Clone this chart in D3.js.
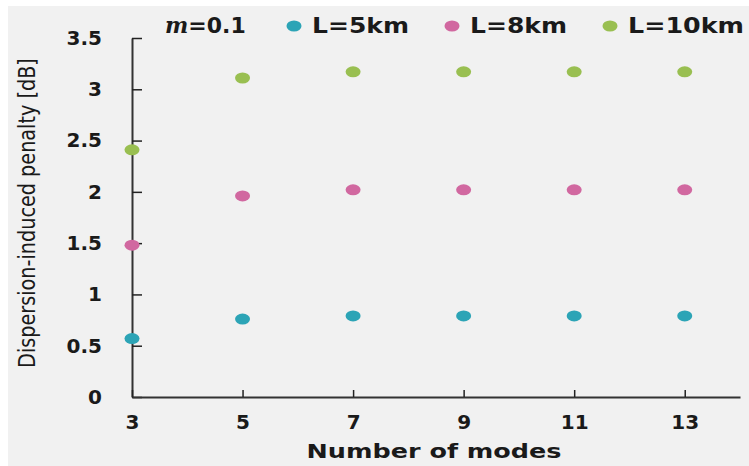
<!DOCTYPE html>
<html>
<head>
<meta charset="utf-8">
<script src="https://cdn.jsdelivr.net/npm/d3@7/dist/d3.min.js"></script>
<style>
  html, body { margin: 0; padding: 0; background: #ffffff; }
  svg { display: block; }
  text { font-family: "DejaVu Sans", sans-serif; fill: #1a1a1a; }
</style>
</head>
<body>
<svg id="chart" width="749" height="466"></svg>
<script>
// Number of modes on the x axis
const modes = [3, 5, 7, 9, 11, 13];
// Dispersion-induced penalty [dB] per fibre length
const penalty5km  = [0.57, 0.76, 0.79, 0.79, 0.79, 0.79];
const penalty8km  = [1.48, 1.96, 2.02, 2.02, 2.02, 2.02];
const penalty10km = [2.41, 3.11, 3.17, 3.17, 3.17, 3.17];
const seriesNames = ["L=5km", "L=8km", "L=10km"];
const seriesColors = ["#2ca4b6", "#d168a0", "#99bf51"];
const xTicks = [3, 5, 7, 9, 11, 13];
const yTicks = [0, 0.5, 1, 1.5, 2, 2.5, 3, 3.5];

const series = [penalty5km, penalty8km, penalty10km].map((vals, i) => ({
  name: seriesNames[i],
  color: seriesColors[i],
  points: modes.map((m, j) => ({ m, v: vals[j] }))
}));

const svg = d3.select("#chart");

// panel background
svg.append("rect")
  .attr("x", 8).attr("y", 6)
  .attr("width", 741).attr("height", 460)
  .attr("fill", "#f1f1f1");

const x = d3.scaleLinear().domain([3, 14]).range([132, 740]);
const y = d3.scaleLinear().domain([0, 3.5]).range([397, 38]);

// y axis with inward ticks
const yAxis = d3.axisLeft(y)
  .tickValues(yTicks)
  .tickFormat(d3.format("~g"))
  .tickSizeInner(-10)
  .tickSizeOuter(0)
  .tickPadding(30);

const gy = svg.append("g")
  .attr("transform", `translate(${x(3)},0)`)
  .call(yAxis);
gy.select(".domain").attr("stroke", "#333").attr("stroke-width", 2);
gy.selectAll(".tick line").attr("stroke", "#222").attr("stroke-width", 1.5);
gy.selectAll(".tick text")
  .attr("fill", "#1a1a1a")
  .style("font-size", "20px")
  .style("font-weight", "bold");

// x axis with inward ticks
const xAxis = d3.axisBottom(x)
  .tickValues(xTicks)
  .tickFormat(d3.format("d"))
  .tickSizeInner(-7)
  .tickSizeOuter(0)
  .tickPadding(18);

const gx = svg.append("g")
  .attr("transform", `translate(0,${y(0)})`)
  .call(xAxis);
gx.select(".domain").attr("stroke", "#333").attr("stroke-width", 2);
gx.selectAll(".tick line").attr("stroke", "#222").attr("stroke-width", 1.5);
gx.selectAll(".tick text")
  .attr("fill", "#1a1a1a")
  .style("font-size", "20px")
  .style("font-weight", "bold");

// axis titles
svg.append("text")
  .attr("x", 434).attr("y", 458)
  .attr("text-anchor", "middle")
  .attr("textLength", 255)
  .attr("lengthAdjust", "spacingAndGlyphs")
  .style("font-size", "19px")
  .style("font-weight", "bold")
  .text("Number of modes");

// y title: condensed horizontally to a fixed run length
const yTitle = svg.append("text")
  .attr("text-anchor", "middle")
  .style("font-size", "23px")
  .text("Dispersion-induced penalty [dB]");
const natural = yTitle.node().getComputedTextLength();
const squeeze = 310 / natural;
yTitle.attr("transform", `translate(35,213) rotate(-90) scale(${squeeze},1)`);

// data points
series.forEach(s => {
  svg.append("g")
    .selectAll("ellipse")
    .data(s.points)
    .join("ellipse")
    .attr("cx", d => x(d.m))
    .attr("cy", d => y(d.v))
    .attr("rx", 7.5)
    .attr("ry", 5.5)
    .attr("fill", s.color);
});

// legend
const legend = svg.append("g");
const mLabel = legend.append("text")
  .attr("x", 165).attr("y", 33)
  .style("font-size", "22px");
mLabel.append("tspan")
  .style("font-family", "'DejaVu Serif', serif")
  .style("font-style", "italic")
  .style("font-weight", "bold")
  .text("m");
mLabel.append("tspan")
  .style("font-weight", "bold")
  .text("=0.1");

const legendX = [294, 452, 610];
const legendW = [97, 97, 116];
series.forEach((s, i) => {
  legend.append("ellipse")
    .attr("cx", legendX[i]).attr("cy", 26)
    .attr("rx", 7.5).attr("ry", 5.5)
    .attr("fill", s.color);
  legend.append("text")
    .attr("x", legendX[i] + 18).attr("y", 33)
    .attr("textLength", legendW[i])
    .attr("lengthAdjust", "spacingAndGlyphs")
    .style("font-size", "22px")
    .style("font-weight", "bold")
    .text(s.name);
});
</script>
</body>
</html>
